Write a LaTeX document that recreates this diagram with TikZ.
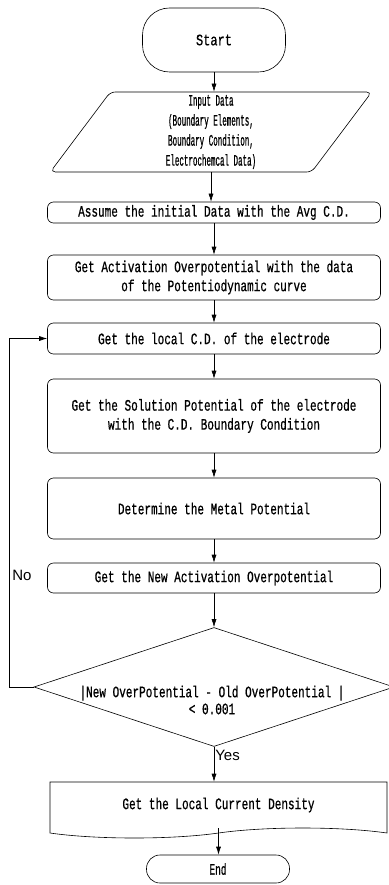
\documentclass[tikz,border=0pt]{standalone}
\usepackage{fontspec}
\usetikzlibrary{shapes.geometric,shapes.symbols,arrows.meta}
\newfontfamily\flowfont[FakeStretch=0.69,FakeBold=0.6]{Liberation Mono}
\newfontfamily\inputfont[FakeStretch=0.47,FakeBold=0.6]{Liberation Mono}
\newfontfamily\startfont[FakeStretch=0.75,FakeBold=0.6]{Liberation Mono}
\newfontfamily\endfont[FakeStretch=0.59,FakeBold=0.6]{Liberation Mono}
\newfontfamily\yesnofont{Liberation Sans}

\begin{document}
\begin{tikzpicture}[x=1pt,y=-1pt,
  box/.style={draw,rounded corners=6pt,minimum width=333pt,align=center,inner sep=0pt,
    font=\flowfont\fontsize{16}{19}\selectfont},
  term/.style={draw,minimum width=143pt,inner sep=0pt},
  iobox/.style={draw,trapezium,trapezium left angle=70,trapezium right angle=110,
    trapezium stretches=true,rounded corners=5pt,minimum width=322pt,minimum height=80pt,
    align=center,inner sep=0pt,font=\inputfont\fontsize{16}{20}\selectfont},
  test/.style={draw,diamond,minimum width=360pt,minimum height=119pt,inner sep=0pt},
  testtext/.style={align=center,inner sep=0pt,font=\flowfont\fontsize{16}{17}\selectfont},
  docbox/.style={draw,tape,tape bend top=none,tape bend bottom=in and out,tape bend height=10pt,
    minimum width=337pt,minimum height=56pt,inner sep=0pt,font=\flowfont\fontsize{16}{19}\selectfont},
  yesno/.style={font=\yesnofont\fontsize{15}{15}\selectfont,inner sep=0pt},
  arr/.style={-{Latex[length=8pt,width=5pt]}},
  semithick]
  \useasboundingbox (0,0) rectangle (388,885);

  \node[term,minimum height=64pt,rounded corners=27pt,font=\startfont\fontsize{16}{19}\selectfont] (start) at (214,40) {Start};
  \node[iobox] (input) at (211,132) {Input Data\\(Boundary Elements,\\Boundary Condition,\\Electrochemcal Data)};
  \node[box,minimum height=21pt] (assume) at (214,212.5) {Assume the initial Data with the Avg C.D.};
  \node[box,minimum height=45pt] (activ) at (214,277.5) {Get Activation Overpotential with the data\\of the Potentiodynamic curve};
  \node[box,minimum height=31pt] (localcd) at (214,338.5) {Get the local C.D. of the electrode};
  \node[box,minimum height=74pt] (solpot) at (214,416) {Get the Solution Potential of the electrode\\with the C.D. Boundary Condition};
  \node[box,minimum height=61pt] (metal) at (214,508.5) {Determine the Metal Potential};
  \node[box,minimum height=30pt] (newact) at (214,578) {Get the New Activation Overpotential};
  \node[test] (check) at (214,687) {};
  \node[testtext] (checktext) at (212,700) {|New OverPotential - Old OverPotential |\\< 0.001};
  \node[docbox] (density) at (218.5,805) {Get the Local Current Density};
  \node[term,minimum height=28pt,rounded corners=13.5pt,font=\endfont\fontsize{16}{19}\selectfont] (finish) at (218,869) {End};

  % straight down the main line
  \foreach \a/\b in {start/input,input/assume,assume/activ,activ/localcd,localcd/solpot,solpot/metal,metal/newact,newact/check,check/density,density/finish}
    {\draw[arr] (\a.south) -- (\a.south |- \b.north);}

  % loop back when not converged
  \coordinate (loop) at (9,687);
  \draw[arr] (check.west) -- (loop) |- (localcd.west);
  \node[yesno,anchor=west] (no) at (12,575) {No};
  \node[yesno,anchor=west] (yes) at (215,755) {Yes};
\end{tikzpicture}
\end{document}
